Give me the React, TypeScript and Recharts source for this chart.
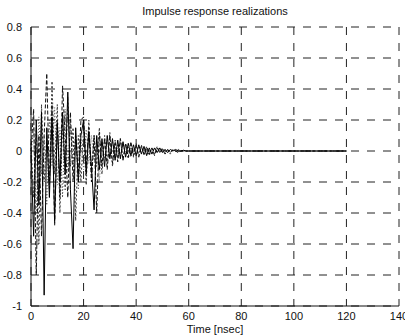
import React from 'react'
import { LineChart, Line, XAxis, YAxis, CartesianGrid } from 'recharts'

// sample times in nsec
const times: number[] = [
  ...Array.from({ length: 61 }, (_, i) => i),
  70, 80, 90, 100, 110, 120,
]

const realization1 = [
  0.02, -0.55, 0.2, -0.35, 0.25, -0.93, 0.15, -0.3, 0.22, -0.45, 0.18, -0.2, 0.25, -0.15, 0.38, -0.25,
  -0.63, 0.15, -0.2, 0.1, 0.2, -0.15, 0.12, -0.1, -0.38, 0.1, -0.12, 0.08, -0.1, 0.1, -0.05, 0.08,
  -0.06, 0.07, -0.05, 0.06, -0.04, 0.05, -0.03, 0.04, -0.03, 0.04, -0.02, 0.03, -0.03, 0.02, -0.02,
  0.02, -0.01, 0.02, -0.01, 0.01, -0.01, 0.01, 0, 0.01, 0, 0, 0.005, 0, 0,
  0, 0, 0, 0, 0, 0,
]

const realization2 = [
  0, 0.27, -0.8, 0.1, -0.55, 0.1, 0.5, -0.2, 0.3, -0.48, 0.2, -0.3, 0.42, 0.1, -0.3, 0.25, -0.2,
  0.1, -0.15, 0.2, 0.22, -0.1, 0.15, -0.2, 0.1, -0.4, 0.12, -0.1, 0.08, -0.12, 0.1, -0.08, 0.06,
  -0.07, 0.08, -0.06, 0.05, -0.04, 0.06, -0.03, 0.04, -0.04, 0.03, -0.02, 0.03, -0.02, 0.02, -0.03,
  0.02, -0.01, 0.01, -0.02, 0.01, -0.01, 0.01, 0, -0.01, 0, 0, 0, 0,
  0, 0, 0, 0, 0, 0,
]

const realization3 = [
  0.05, -0.3, 0.15, -0.6, 0.3, -0.2, 0.1, -0.25, 0.45, -0.15, 0.3, -0.4, 0.2, -0.25, 0.35, -0.1,
  0.15, -0.45, 0.1, -0.2, 0.15, -0.22, 0.2, -0.15, 0.1, -0.1, 0.15, -0.15, 0.1, -0.08, 0.12, -0.1,
  0.07, -0.05, 0.08, -0.06, 0.05, -0.05, 0.04, -0.04, 0.05, -0.03, 0.04, -0.03, 0.02, -0.03, 0.02,
  -0.02, 0.03, -0.01, 0.02, -0.01, 0.01, -0.02, 0.01, 0, 0.01, 0, 0, 0, 0,
  0, 0, 0, 0, 0, 0,
]

const realization4 = [
  -0.02, 0.15, -0.4, 0.22, -0.15, 0.1, -0.35, 0.2, -0.1, 0.28, -0.22, 0.15, -0.3, 0.27, -0.12, 0.18,
  -0.1, 0.12, -0.25, 0.08, -0.12, 0.14, -0.08, 0.1, -0.06, 0.09, -0.2, 0.06, -0.05, 0.07, -0.04,
  0.06, -0.05, 0.04, -0.03, 0.05, -0.02, 0.03, -0.04, 0.02, -0.02, 0.03, -0.01, 0.02, -0.02, 0.01,
  -0.01, 0.02, -0.01, 0.01, 0, 0.01, -0.01, 0, 0.005, 0, 0, 0, 0, 0, 0,
  0, 0, 0, 0, 0, 0,
]

const xTicks = [0, 20, 40, 60, 80, 100, 120, 140]
const yTicks = [-1, -0.8, -0.6, -0.4, -0.2, 0, 0.2, 0.4, 0.6, 0.8]

const data = times.map((t, i) => ({
  t,
  r1: realization1[i],
  r2: realization2[i],
  r3: realization3[i],
  r4: realization4[i],
}))

const font = 'Arial, "Liberation Sans", sans-serif'
const tickStyle = { fontSize: 11, fill: '#111', fontFamily: font }

const App = () => {
  return (
    <div style={{ position: 'absolute', left: 0, top: 0, width: 405, height: 336, background: '#fff' }}>
      <div
        style={{
          position: 'absolute',
          left: 31,
          top: 5,
          width: 368,
          textAlign: 'center',
          fontFamily: font,
          fontSize: 11,
          color: '#111',
        }}
      >
        Impulse response realizations
      </div>
      <LineChart width={405} height={336} data={data} margin={{ top: 27, right: 6, bottom: 0, left: 0 }}>
        <CartesianGrid strokeDasharray="8 8" stroke="#222" strokeWidth={1} />
        <XAxis
          dataKey="t"
          type="number"
          domain={[0, 140]}
          ticks={xTicks}
          height={30}
          tickLine={false}
          tickMargin={0}
          axisLine={{ stroke: '#111' }}
          tick={tickStyle}
          interval={0}
          label={{ value: 'Time [nsec]', position: 'insideBottom', offset: 3, style: tickStyle }}
        />
        <XAxis xAxisId="top" orientation="top" dataKey="t" type="number" domain={[0, 140]} ticks={xTicks}
          height={0} tick={false} tickLine={false} axisLine={{ stroke: '#111' }} />
        <YAxis
          type="number"
          domain={[-1, 0.8]}
          ticks={yTicks}
          width={31}
          tickLine={false}
          tickMargin={3}
          axisLine={{ stroke: '#111' }}
          tick={tickStyle}
          interval={0}
        />
        <YAxis yAxisId="right" orientation="right" domain={[-1, 0.8]} width={0} tick={false} tickLine={false}
          axisLine={{ stroke: '#111' }} />
        <Line dataKey="r4" stroke="#555" strokeWidth={1} dot={false} isAnimationActive={false} strokeDasharray="1 2" />
        <Line dataKey="r3" stroke="#333" strokeWidth={1} dot={false} isAnimationActive={false} strokeDasharray="2 2" />
        <Line dataKey="r2" stroke="#111" strokeWidth={1} dot={false} isAnimationActive={false} strokeDasharray="4 2" />
        <Line dataKey="r1" stroke="#000" strokeWidth={1} dot={false} isAnimationActive={false} />
      </LineChart>
    </div>
  )
}

export default App
